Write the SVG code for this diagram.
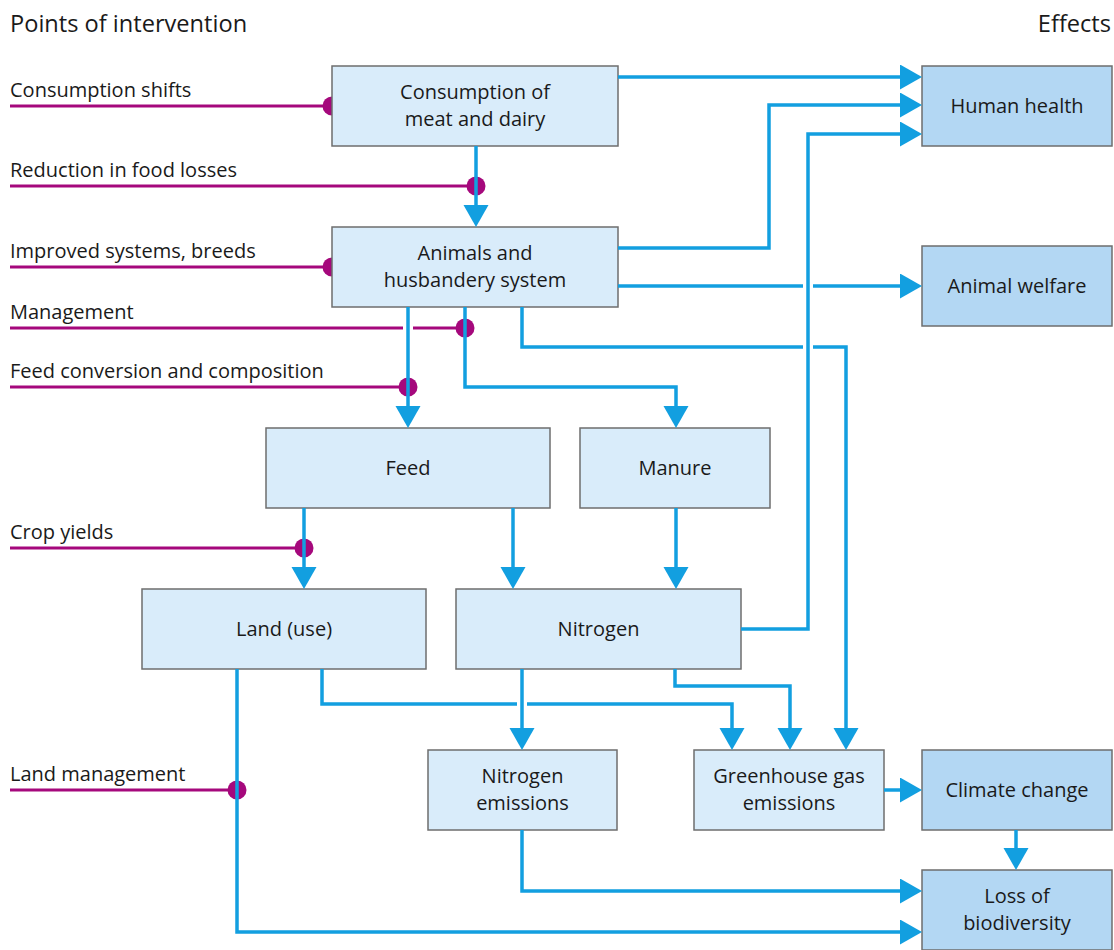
<svg xmlns="http://www.w3.org/2000/svg" width="1114" height="950" viewBox="0 0 1114 950">
<defs>
<style>
text{font-family:"Open Sans","Noto Sans",sans-serif;font-size:20px;fill:#1a1a1a}
.t{font-size:23.6px}
.c{text-anchor:middle}
.box{fill:#d9ecfa;stroke:#6e6e6e;stroke-width:1.5}
.eff{fill:#b3d7f3;stroke:#6e6e6e;stroke-width:1.5}
.con{fill:none;stroke:#129fe0;stroke-width:3.5}
.iv{fill:none;stroke:#a5087c;stroke-width:3.2}
.dot{fill:#a5087c}
</style>
<marker id="ah" markerUnits="userSpaceOnUse" markerWidth="24" markerHeight="26" refX="18" refY="12.5" orient="auto" viewBox="0 0 24 26">
<path d="M0,0 L22,12.5 L0,25 Z" fill="#129fe0"/>
</marker>
</defs>
<rect width="1114" height="950" fill="#ffffff"/>
<text class="t" x="10" y="32">Points of intervention</text>
<text class="t" x="1111" y="32" text-anchor="end">Effects</text>

<g id="interventions">
<text x="10" y="97">Consumption shifts</text>
<path class="iv" d="M10,106 H332"/>
<circle class="dot" cx="332" cy="106" r="9.5"/>
<text x="10" y="177">Reduction in food losses</text>
<path class="iv" d="M10,186 H476"/>
<circle class="dot" cx="476" cy="186" r="9.5"/>
<text x="10" y="258">Improved systems, breeds</text>
<path class="iv" d="M10,267 H332"/>
<circle class="dot" cx="332" cy="267" r="9.5"/>
<text x="10" y="319">Management</text>
<path class="iv" d="M10,328 H403 M413,328 H465"/>
<circle class="dot" cx="465" cy="328" r="9.5"/>
<text x="10" y="378">Feed conversion and composition</text>
<path class="iv" d="M10,387 H408"/>
<circle class="dot" cx="408" cy="387" r="9.5"/>
<text x="10" y="539">Crop yields</text>
<path class="iv" d="M10,548 H304"/>
<circle class="dot" cx="304" cy="548" r="9.5"/>
<text x="10" y="781">Land management</text>
<path class="iv" d="M10,790 H237"/>
<circle class="dot" cx="237" cy="790" r="9.5"/>
</g>

<g id="consumption">
<rect class="box" x="332" y="66" width="286" height="80"/>
<text class="c" x="475" y="99">Consumption of</text>
<text class="c" x="475" y="126">meat and dairy</text>
</g>
<g id="human-health">
<rect class="eff" x="922" y="66" width="190" height="80"/>
<text class="c" x="1017" y="113">Human health</text>
</g>
<g id="animals">
<rect class="box" x="332" y="227" width="286" height="80"/>
<text class="c" x="475" y="260">Animals and</text>
<text class="c" x="475" y="287">husbandery system</text>
</g>
<g id="animal-welfare">
<rect class="eff" x="922" y="246" width="190" height="80"/>
<text class="c" x="1017" y="293">Animal welfare</text>
</g>
<g id="feed">
<rect class="box" x="266" y="428" width="284" height="80"/>
<text class="c" x="408" y="475">Feed</text>
</g>
<g id="manure">
<rect class="box" x="580" y="428" width="190" height="80"/>
<text class="c" x="675" y="475">Manure</text>
</g>
<g id="land">
<rect class="box" x="142" y="589" width="284" height="80"/>
<text class="c" x="284" y="636">Land (use)</text>
</g>
<g id="nitrogen">
<rect class="box" x="456" y="589" width="285" height="80"/>
<text class="c" x="598.5" y="636">Nitrogen</text>
</g>
<g id="nitrogen-emissions">
<rect class="box" x="428" y="750" width="189" height="80"/>
<text class="c" x="522.5" y="783">Nitrogen</text>
<text class="c" x="522.5" y="810">emissions</text>
</g>
<g id="ghg-emissions">
<rect class="box" x="694" y="750" width="190" height="80"/>
<text class="c" x="789" y="783">Greenhouse gas</text>
<text class="c" x="789" y="810">emissions</text>
</g>
<g id="climate-change">
<rect class="eff" x="922" y="750" width="190" height="80"/>
<text class="c" x="1017" y="797">Climate change</text>
</g>
<g id="biodiversity">
<rect class="eff" x="922" y="870" width="190" height="80"/>
<text class="c" x="1017" y="903">Loss of</text>
<text class="c" x="1017" y="930">biodiversity</text>
</g>

<g id="connectors">
<path class="con" d="M618,77 H918" marker-end="url(#ah)"/>
<path class="con" d="M618,248 H769 V105 H918" marker-end="url(#ah)"/>
<path class="con" d="M741,629 H808 V134 H918" marker-end="url(#ah)"/>
<path class="con" d="M618,286 H803"/>
<path class="con" d="M813,286 H918" marker-end="url(#ah)"/>
<path class="con" d="M522,307 V347 H803"/>
<path class="con" d="M813,347 H846 V746" marker-end="url(#ah)"/>
<path class="con" d="M476,146 V223" marker-end="url(#ah)"/>
<path class="con" d="M408,307 V424" marker-end="url(#ah)"/>
<path class="con" d="M465,307 V387 H676 V424" marker-end="url(#ah)"/>
<path class="con" d="M304,508 V585" marker-end="url(#ah)"/>
<path class="con" d="M513,508 V585" marker-end="url(#ah)"/>
<path class="con" d="M676,508 V585" marker-end="url(#ah)"/>
<path class="con" d="M322,669 V704 H517"/>
<path class="con" d="M527,704 H732 V746" marker-end="url(#ah)"/>
<path class="con" d="M522,669 V746" marker-end="url(#ah)"/>
<path class="con" d="M675,669 V686 H790 V746" marker-end="url(#ah)"/>
<path class="con" d="M237,669 V932 H918" marker-end="url(#ah)"/>
<path class="con" d="M522,830 V891 H918" marker-end="url(#ah)"/>
<path class="con" d="M884,790 H918" marker-end="url(#ah)"/>
<path class="con" d="M1016,830 V866" marker-end="url(#ah)"/>
</g>
</svg>
